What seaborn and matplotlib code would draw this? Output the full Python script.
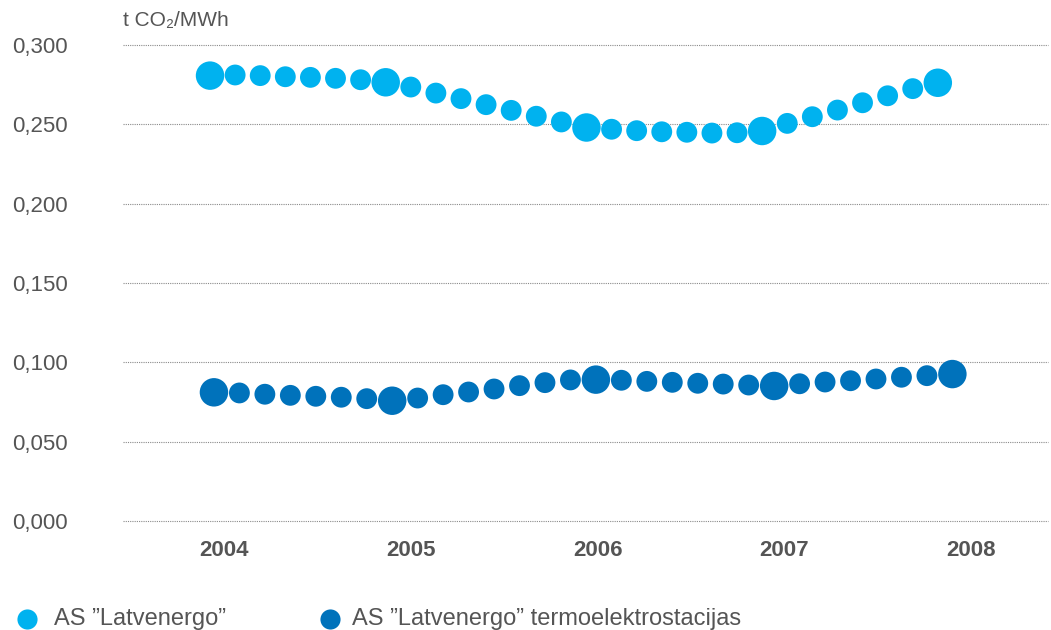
import numpy as np
import pandas as pd
import matplotlib
matplotlib.use("Agg")
import matplotlib.pyplot as plt
from matplotlib.lines import Line2D
import seaborn as sns

# ---- data ----
years = [2004, 2005, 2006, 2007, 2008]
y_ticks = [0.000, 0.050, 0.100, 0.150, 0.200, 0.250, 0.300]
y_tick_labels = ["0,000", "0,050", "0,100", "0,150", "0,200", "0,250", "0,300"]

latvenergo = [0.2807, 0.2811, 0.2807, 0.2800, 0.2796, 0.2790, 0.2781, 0.2765,
              0.2735, 0.2697, 0.2662, 0.2624, 0.2588, 0.2551, 0.2515, 0.2480,
              0.2469, 0.2460, 0.2453, 0.2450, 0.2445, 0.2447, 0.2458, 0.2506,
              0.2548, 0.2590, 0.2636, 0.2680, 0.2725, 0.2762]
termo = [0.0811, 0.0807, 0.0799, 0.0792, 0.0786, 0.0780, 0.0771, 0.0758,
         0.0775, 0.0796, 0.0813, 0.0832, 0.0853, 0.0872, 0.0889, 0.0891,
         0.0887, 0.0880, 0.0874, 0.0868, 0.0863, 0.0857, 0.0851, 0.0865,
         0.0876, 0.0884, 0.0895, 0.0906, 0.0916, 0.0926]
big_idx = [0, 7, 15, 22, 29]

series_names = ["AS \u201dLatvenergo\u201d", "AS \u201dLatvenergo\u201d termoelektrostacijas"]
colors = ["#00b2ef", "#0072bb"]

# evenly spaced positions along the time axis (start, end in year units)
lat_x = np.linspace(2003.925, 2007.822, len(latvenergo))
ter_x = np.linspace(2003.946, 2007.900, len(termo))

rows = []
for xs, vals, name in [(lat_x, latvenergo, series_names[0]), (ter_x, termo, series_names[1])]:
    for i, (x, v) in enumerate(zip(xs, vals)):
        rows.append({"x": x, "y": v, "series": name, "kind": "big" if i in big_idx else "small"})
df = pd.DataFrame(rows)

# ---- plot ----
sns.set_theme(style="white")
plt.rcParams["font.family"] = ["Liberation Sans", "DejaVu Sans"]

fig = plt.figure(figsize=(10.51, 6.30), dpi=100)
ax = fig.add_axes([123 / 1051, 1 - 521 / 630, (1048 - 123) / 1051, (521 - 45) / 630])

sns.scatterplot(data=df, x="x", y="y", hue="series", palette=dict(zip(series_names, colors)),
                size="kind", sizes={"big": 420, "small": 225}, linewidth=0,
                legend=False, ax=ax, clip_on=False, zorder=3)

ax.set_xlim(2003.459, 2008.412)
ax.set_ylim(0, 0.3)
ax.set_yticks(y_ticks)
ax.set_yticklabels(y_tick_labels)
ax.set_xticks(years)
ax.set_xticklabels([str(y) for y in years])
ax.tick_params(axis="y", length=0, pad=40, labelsize=16, labelcolor="#555555")
ax.tick_params(axis="x", length=0, pad=14, labelsize=16, labelcolor="#555555")
for lbl in ax.get_xticklabels():
    lbl.set_fontweight("bold")
for lbl in ax.get_yticklabels():
    lbl.set_verticalalignment("center_baseline")

for y in y_ticks:
    ax.axhline(y, color="#8a8a8a", lw=0.8, ls=(0, (1, 1)), zorder=1, clip_on=False)
ax.grid(False)
for s in ax.spines.values():
    s.set_visible(False)
ax.set_xlabel("")
ax.set_ylabel("")

fig.text(123 / 1051, 1 - 20 / 630, "t CO\u2082/MWh", fontsize=15, color="#555555",
         va="center", ha="left")

# legend (manual placement)
leg_y = 1 - 619 / 630
for mx, tx, c, name in [(27, 54, colors[0], series_names[0]), (330, 352, colors[1], series_names[1])]:
    fig.add_artist(Line2D([mx / 1051], [leg_y], marker="o", color="none", markerfacecolor=c,
                          markeredgewidth=0, markersize=14.5, transform=fig.transFigure))
    fig.text(tx / 1051, leg_y, name, fontsize=17, color="#555555", va="center", ha="left")

fig.savefig("out.png", dpi=100)
